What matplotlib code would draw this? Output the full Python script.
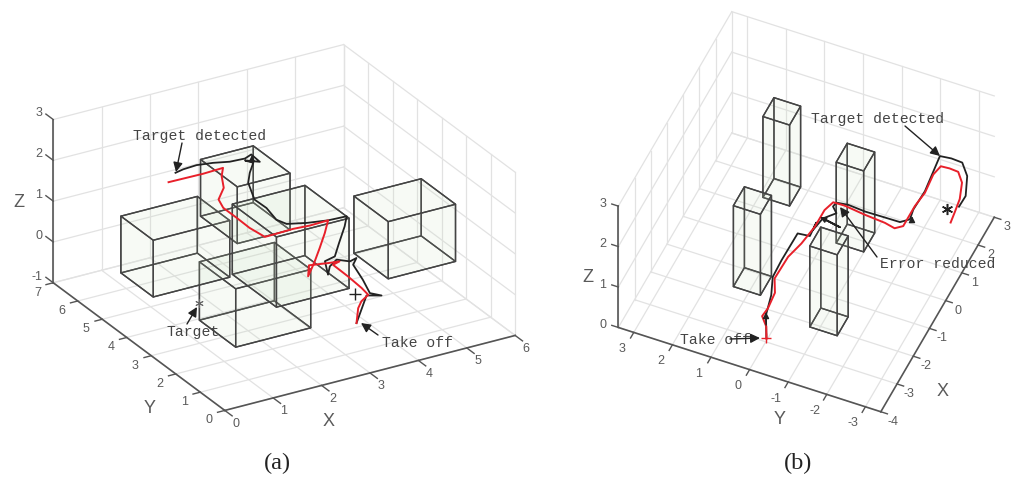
import numpy as np
import matplotlib
matplotlib.use('Agg')
import matplotlib.pyplot as plt
from mpl_toolkits.mplot3d.art3d import Poly3DCollection

# obstacles, panel (a): corner + size
a_box_x = [0.63, 0.40, 2.79, 2.08, 4.38]
a_box_y = [0.80, 3.71, 5.00, 2.00, 1.98]
a_box_dx = [1.55, 1.58, 1.09, 1.50, 1.39]
a_box_dy = [1.48, 1.32, 1.50, 1.80, 1.40]
a_box_dz = [1.43, 1.39, 1.39, 1.72, 1.40]

# reference path (red), panel (a)
a_red_x = [2.16, 2.52, 2.86, 3.29, 3.10, 2.89, 2.57, 2.47, 2.47, 2.46, 2.51, 2.75, 3.11, 3.43, 3.82, 3.51, 3.12, 2.77,
           2.68, 2.36, 2.60, 2.94, 3.15, 2.98, 2.97, 2.94, 3.07, 3.00, 3.06, 2.98]
a_red_y = [6.56, 6.55, 6.54, 6.57, 6.25, 5.75, 5.33, 4.94, 4.39, 3.85, 3.32, 3.33, 3.35, 3.31, 3.33, 2.85, 2.29, 1.80,
           1.68, 1.26, 1.70, 1.59, 1.54, 1.47, 0.84, 0.22, 0.21, 0.35, 0.60, 0.51]
a_red_z = [1, 1, 1, 1, 1, 1, 1, 1, 1, 1, 1, 1, 1, 1, 1, 1, 1, 1,
           1, 1, 1, 1, 1, 1, 1, 1, 0.8, 0.6, 0.3, 0]

# estimated path (black), panel (a)
a_blk_x = [2.46, 2.65, 2.94, 3.24, 3.52, 3.82, 4.00, 3.98, 3.78, 3.86, 3.60, 3.37, 3.12, 3.13, 3.04, 3.11, 3.44, 3.82,
           4.19, 3.95, 3.52, 3.18, 2.93, 2.70, 2.90, 3.14, 3.31, 3.48, 3.29, 3.13, 3.13, 3.26, 3.03, 2.98]
a_blk_y = [6.87, 6.93, 6.96, 6.88, 6.75, 6.72, 6.82, 6.43, 6.64, 6.46, 6.09, 5.70, 4.95, 4.48, 3.90, 3.62, 3.45, 3.33,
           3.30, 2.91, 2.29, 1.79, 1.70, 1.12, 1.44, 1.64, 1.43, 1.50, 1.26, 0.55, 0.26, 0.04, 0.20, 0.51]
a_blk_z = [1, 1, 1, 1, 1, 1, 1, 1, 1, 1, 1, 1, 1, 1, 1, 1, 1, 1,
           1, 1, 1, 1, 1, 1, 1, 1, 1, 1, 1, 1, 0.8, 0.8, 0.8, 0]

a_takeoff = [3.57, 1.72, 0]
a_target = [0.97, 2.98, 0]

# obstacles, panel (b)
b_box_x = [1.35, -1.64, 0.68, -2.12]
b_box_y = [1.21, 0.71, -0.99, -1.48]
b_box_dx = [0.68, 0.68, 0.68, 0.68]
b_box_dy = [0.69, 0.70, 0.71, 0.71]
b_box_dz = [2.0, 2.0, 2.0, 2.0]

b_red_x = [-2.89, -2.90, -2.87, -2.82, -2.65, -2.22, -1.43, -0.90, -0.26, 0.34, 0.66, 0.67, 0.59, 0.54, 0.47, 0.62,
           1.34, 1.84, 2.48, 2.80, 2.82, 2.80, 2.51, 1.99, 1.53, 1.19]
b_red_y = [0.03, 0.03, 0.15, 0.02, -0.09, 0.10, 0.08, -0.04, -0.12, -0.12, -0.21, -0.50, -1.06, -1.60, -1.88, -2.04,
           -2.04, -2.09, -2.04, -2.10, -2.32, -2.55, -2.77, -2.93, -2.99, -3.03]
b_red_z = [0, 0.3, 0.5, 0.7, 1, 1, 1, 1, 1, 1, 1, 1, 1, 1, 1, 1,
           1, 1, 1, 1, 1, 1, 1, 1, 1, 1]

b_blk_x = [-2.89, -2.80, -2.76, -2.19, -1.60, -0.63, -0.59, -0.12, -0.38, 0.07, -0.03, 0.07, 0.36, 0.53, 0.68, 0.73,
           0.69, 0.70, 0.71, 0.89, 1.22, 1.89, 3.10, 3.14, 3.12, 2.76, 2.14, 1.75]
b_blk_y = [0.03, 0.08, -0.04, 0.16, 0.18, 0.17, -0.13, -0.10, -0.12, -0.19, -0.67, -0.19, -0.42, -0.26, -0.28, -0.57,
           -1.02, -1.44, -1.92, -2.10, -2.05, -2.07, -1.95, -2.23, -2.52, -2.80, -3.02, -3.01]
b_blk_z = [0, 0.5, 1, 1, 1, 1, 1, 1, 1, 1, 1, 1, 1, 1, 1, 1,
           1, 1, 1, 1, 1, 1, 1, 1, 1, 1, 1, 1]

b_takeoff = [-2.89, 0.03, 0]
b_target = [2.78, -2.26, 0]

a_xticks = [0, 1, 2, 3, 4, 5, 6]
a_yticks = [0, 1, 2, 3, 4, 5, 6, 7]
a_zticks = [-1, 0, 1, 2, 3]
b_xticks = [-4, -3, -2, -1, 0, 1, 2, 3]
b_yticks = [-3, -2, -1, 0, 1, 2, 3]
b_zticks = [0, 1, 2, 3]

GRID = '#e2e2e2'
AXIS = '#555555'
TICK = '#5a5a5a'
RED = '#e8202a'
BLACK = '#222222'
MONO = 'Liberation Mono'
SANS = 'Liberation Sans'

fig = plt.figure(figsize=(10.24, 4.84), dpi=100)


def make_axes(cx, cy, size, aspect, azim, elev):
    # cx, cy = box centre in picture pixels (y from the top)
    norm = np.linalg.norm(aspect)
    zoom = norm * 1.85 / (1.8294640721620434 * 25 / 24) / size
    left = cx - 0.5135 * size
    bottom = 484 - cy - 0.5135 * size
    ax = fig.add_axes([left / 1024, bottom / 484, size / 1024, size / 484], projection='3d', proj_type='ortho')
    ax.set_box_aspect(aspect, zoom=zoom)
    ax.view_init(elev=elev, azim=azim)
    ax.computed_zorder = False
    ax.set_xticks([])
    ax.set_yticks([])
    ax.set_zticks([])
    ax.set_axis_off()
    ax.patch.set_alpha(0)
    return ax


def draw_walls(ax, xl, yl, zl, xticks, yticks, zticks, xlen, ylen, zlen):
    x0, x1 = xl
    y0, y1 = yl
    z0, z1 = zl
    for t in xticks:
        ax.plot([t, t], [y0, y1], [z0, z0], color=GRID, lw=0.9, zorder=1)
        ax.plot([t, t], [y1, y1], [z0, z1], color=GRID, lw=0.9, zorder=1)
        ax.plot([t, t], [y0, y0 - xlen], [z0, z0], color=AXIS, lw=1, zorder=2)
    for t in yticks:
        ax.plot([x0, x1], [t, t], [z0, z0], color=GRID, lw=0.9, zorder=1)
        ax.plot([x1, x1], [t, t], [z0, z1], color=GRID, lw=0.9, zorder=1)
        ax.plot([x0, x0 - ylen], [t, t], [z0, z0], color=AXIS, lw=1, zorder=2)
    for t in zticks:
        ax.plot([x0, x1], [y1, y1], [t, t], color=GRID, lw=0.9, zorder=1)
        ax.plot([x1, x1], [y0, y1], [t, t], color=GRID, lw=0.9, zorder=1)
        ax.plot([x0, x0], [y1, y1 + zlen], [t, t], color=AXIS, lw=1, zorder=2)
    ax.plot([x0, x1], [y0, y0], [z0, z0], color=AXIS, lw=1.2, zorder=2)
    ax.plot([x0, x0], [y0, y1], [z0, z0], color=AXIS, lw=1.2, zorder=2)
    ax.plot([x0, x0], [y1, y1], [z0, z1], color=AXIS, lw=1.2, zorder=2)


def draw_box(ax, x, y, dx, dy, dz):
    c = np.array([[x, y, 0], [x + dx, y, 0], [x + dx, y + dy, 0], [x, y + dy, 0],
                  [x, y, dz], [x + dx, y, dz], [x + dx, y + dy, dz], [x, y + dy, dz]])
    faces = [[0, 1, 2, 3], [4, 5, 6, 7], [0, 1, 5, 4], [1, 2, 6, 5], [2, 3, 7, 6], [3, 0, 4, 7]]
    poly = Poly3DCollection([c[f] for f in faces], facecolors=(0.78, 0.88, 0.74, 0.07),
                            edgecolors='#444444', linewidths=1.0, zorder=3)
    ax.add_collection3d(poly)


# panel (a)
ax1 = make_axes(284.2, 227.5, 500, (337, 338, 181.6), -120.5, 26)
draw_walls(ax1, (0, 6), (0, 7), (-1, 3), a_xticks, a_yticks, a_zticks, 0.3, 0.15, 0.3)
for i in range(len(a_box_x)):
    draw_box(ax1, a_box_x[i], a_box_y[i], a_box_dx[i], a_box_dy[i], a_box_dz[i])
ax1.plot(a_blk_x, a_blk_y, a_blk_z, color=BLACK, lw=1.3, zorder=5)
ax1.plot(a_red_x, a_red_y, a_red_z, color=RED, lw=1.4, zorder=6)
ax1.plot(*[[v] for v in a_takeoff], marker='+', ms=8, mew=1, color=BLACK, zorder=7)
ax1.plot(*[[v] for v in a_target], marker=(6, 2, 0), ms=6, mew=0.7, color='#666666', zorder=7)
for t in a_xticks:
    ax1.text(t - 0.11, -0.66, -1, str(t), color=TICK, family=SANS, fontsize=9, ha='center', va='center')
for t in a_yticks:
    ax1.text(-0.45, t - 0.24, -1, str(t), color=TICK, family=SANS, fontsize=9, ha='center', va='center')
for t in a_zticks:
    ax1.text(0, 7.45, t - 0.05, str(t), color=TICK, family=SANS, fontsize=9, ha='right', va='center')
ax1.text(1.36, -1.54, -1, 'X', color=TICK, family=SANS, fontsize=13, ha='center', va='center')
ax1.text(-1.10, 0.885, -1, 'Y', color=TICK, family=SANS, fontsize=13, ha='center', va='center')
ax1.text(0, 8.39, 0.35, 'Z', color=TICK, family=SANS, fontsize=13, ha='center', va='center', rotation=90)
ax1.set_xlim(0, 6, view_margin=0)
ax1.set_ylim(0, 7, view_margin=0)
ax1.set_zlim(-1, 3, view_margin=0)

# panel (b)
ax2 = make_axes(806.3, 211.7, 440, (285.6, 286, 181), -156.6, 47.9)
draw_walls(ax2, (-4, 3), (-3.4, 3.4), (0, 3), b_xticks, b_yticks, b_zticks, 0.17, 0.2, 0.17)
for i in range(len(b_box_x)):
    draw_box(ax2, b_box_x[i], b_box_y[i], b_box_dx[i], b_box_dy[i], b_box_dz[i])
ax2.plot(b_blk_x, b_blk_y, b_blk_z, color=BLACK, lw=1.3, zorder=5)
ax2.plot(b_red_x, b_red_y, b_red_z, color=RED, lw=1.4, zorder=6)
ax2.plot(*[[v] for v in b_takeoff], marker='+', ms=7, mew=1, color=RED, zorder=7)
ax2.plot(*[[v] for v in b_target], marker=(6, 2, 0), ms=8, mew=1.1, color=BLACK, zorder=7)
for t in b_xticks:
    ax2.text(t - 0.18, -3.795, 0, str(t), color=TICK, family=SANS, fontsize=9, ha='center', va='center')
for t in b_yticks:
    ax2.text(-4.62, t + 0.05, 0, str(t), color=TICK, family=SANS, fontsize=9, ha='center', va='center')
for t in b_zticks:
    ax2.text(-4, 3.8, t - 0.065, str(t), color=TICK, family=SANS, fontsize=9, ha='center', va='center')
ax2.text(-2.79, -4.48, 0, 'X', color=TICK, family=SANS, fontsize=13, ha='center', va='center')
ax2.text(-5.22, -1.30, 0, 'Y', color=TICK, family=SANS, fontsize=13, ha='center', va='center')
ax2.text(-4, 4.19, 1.0, 'Z', color=TICK, family=SANS, fontsize=13, ha='center', va='center', rotation=90)
ax2.set_xlim(-4, 3, view_margin=0)
ax2.set_ylim(-3.4, 3.4, view_margin=0)
ax2.set_zlim(0, 3, view_margin=0)

# labels and callouts on top, in picture pixels
over = fig.add_axes([0, 0, 1, 1])
over.set_xlim(0, 1024)
over.set_ylim(484, 0)
over.set_xticks([])
over.set_yticks([])
over.axis('off')
over.patch.set_alpha(0)

callouts = [
    ('Target detected', (200, 136), (182, 143), (176, 172)),
    ('Target', (193, 332), (187, 324), (197, 307)),
    ('Take off', (417, 343), (378, 335), (361, 323)),
    ('Target detected', (878, 119), (905, 126), (940, 156)),
    ('Error reduced', (938, 264), (877, 257), (840, 207)),
    ('Take off', (715, 340), (730, 339), (760, 338)),
]
for label, pos, start, end in callouts:
    over.text(pos[0], pos[1], label, family=MONO, fontsize=10.6, color='#444444', ha='center', va='center')
    over.annotate('', xy=end, xytext=start,
                  arrowprops=dict(arrowstyle='-|>', color=BLACK, lw=1, mutation_scale=14, shrinkA=0, shrinkB=0))
# small arrows on the black path
for start, end in [((840, 227), (820, 217)), ((766, 325), (766, 312)), ((252, 160), (252, 155)), ((912, 222), (912, 216))]:
    over.annotate('', xy=end, xytext=start,
                  arrowprops=dict(arrowstyle='-|>', color=BLACK, lw=1, mutation_scale=9, shrinkA=0, shrinkB=0))

over.text(277, 463, '(a)', family='Liberation Serif', fontsize=17.5, color='#222222', ha='center', va='center')
over.text(798, 463, '(b)', family='Liberation Serif', fontsize=17.5, color='#222222', ha='center', va='center')

fig.savefig('out.png', dpi=100)
